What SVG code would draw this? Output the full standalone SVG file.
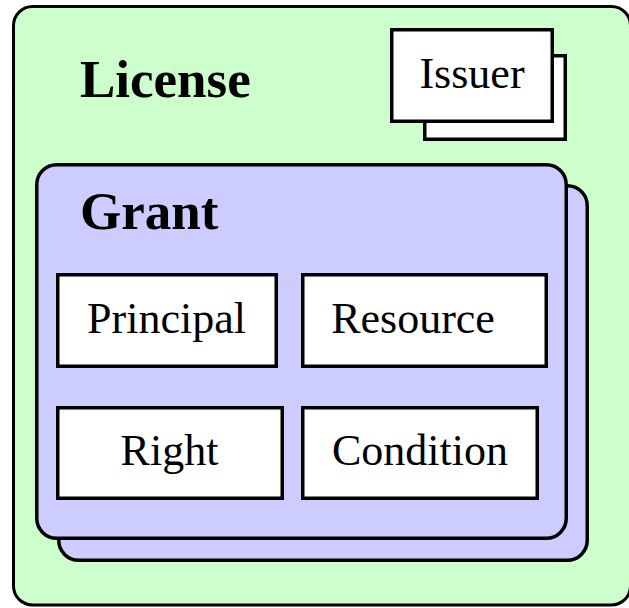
<svg xmlns="http://www.w3.org/2000/svg" width="629" height="608" viewBox="0 0 629 608">
<style>
.lic{fill:#CCFFCC;stroke:#000;stroke-width:3}
.grant{fill:#CCCCFF;stroke:#000;stroke-width:3.5}
.box{fill:#FFFFFF;stroke:#000;stroke-width:3.5}
.title{font-family:"Liberation Serif","Times New Roman",serif;font-weight:bold;font-size:53px;fill:#000}
.lbl{font-family:"Liberation Serif","Times New Roman",serif;font-size:44px;fill:#000;text-anchor:middle}
</style>
<rect width="629" height="608" fill="#FFFFFF"/>
<g id="license">
<rect class="lic" x="13.5" y="6.5" width="617" height="598.5" rx="19"/>
<text class="title" x="80" y="97">License</text>
</g>
<g id="issuer">
<rect class="box" x="424.75" y="55.75" width="140.5" height="83.5"/>
<rect class="box" x="391.75" y="29.75" width="160.5" height="91.5"/>
<text class="lbl" x="472" y="88">Issuer</text>
</g>
<g id="grant">
<rect class="grant" x="58.75" y="185.75" width="528.5" height="374.5" rx="20"/>
<rect class="grant" x="36.75" y="164.75" width="529.5" height="373.5" rx="20"/>
<text class="title" x="80" y="229">Grant</text>
</g>
<g id="principal">
<rect class="box" x="57.75" y="274.75" width="218.5" height="91.5"/>
<text class="lbl" x="166.5" y="333">Principal</text>
</g>
<g id="resource">
<rect class="box" x="302.75" y="274.75" width="243.5" height="91.5"/>
<text class="lbl" x="413" y="333">Resource</text>
</g>
<g id="right">
<rect class="box" x="57.75" y="407.75" width="224.5" height="90.5"/>
<text class="lbl" x="169.5" y="465">Right</text>
</g>
<g id="condition">
<rect class="box" x="302.75" y="407.75" width="234.5" height="90.5"/>
<text class="lbl" x="420" y="465">Condition</text>
</g>
<g id="connectors"></g>
</svg>
